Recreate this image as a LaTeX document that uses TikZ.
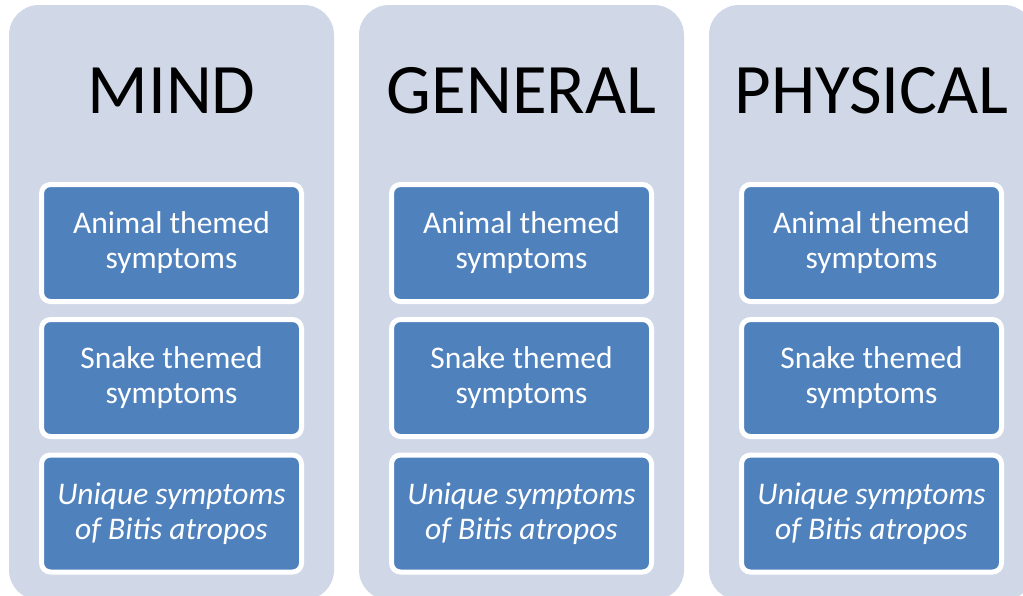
\documentclass[tikz,border=0pt]{standalone}
\usepackage{fontspec}
\setmainfont{Carlito}
\definecolor{colbg}{HTML}{D0D8E8}
\definecolor{boxblue}{HTML}{4F81BD}
\begin{document}
\begin{tikzpicture}[x=1pt,y=-1pt,
  column/.style={fill=colbg, rounded corners=30pt},
  itembox/.style={draw=white, line width=5pt, fill=boxblue, rounded corners=9pt,
    minimum width=260pt, minimum height=117pt, inner sep=0pt,
    text=white, align=center, font=\fontsize{31.5}{35}\selectfont},
  title/.style={anchor=base, text=black, inner sep=0pt, font=\fontsize{71}{84}\selectfont}]
\useasboundingbox (0,0) rectangle (1023,595);
\begin{scope}
\clip (0,0) rectangle (1023,595);
\foreach \i in {0,1,2}{
  \pgfmathsetmacro{\cx}{171.5+350*\i}
  \fill[column] (\cx-162.5,5) rectangle (\cx+162.5,600);
}
\end{scope}
\node[title] (t1) at (171.5,113) {MIND};
\node[title] (t2) at (521.5,113) {GENERAL};
\node[title] (t3) at (871.5,113) {PHYSICAL};
\node[itembox] (a1) at (171.5,243) {Animal themed\\symptoms};
\node[itembox] (b1) at (171.5,378) {Snake themed\\symptoms};
\node[itembox] (c1) at (171.5,513.5) {\itshape Unique symptoms\\\itshape of Bitis atropos};
\node[itembox] (a2) at (521.5,243) {Animal themed\\symptoms};
\node[itembox] (b2) at (521.5,378) {Snake themed\\symptoms};
\node[itembox] (c2) at (521.5,513.5) {\itshape Unique symptoms\\\itshape of Bitis atropos};
\node[itembox] (a3) at (871.5,243) {Animal themed\\symptoms};
\node[itembox] (b3) at (871.5,378) {Snake themed\\symptoms};
\node[itembox] (c3) at (871.5,513.5) {\itshape Unique symptoms\\\itshape of Bitis atropos};
\end{tikzpicture}
\end{document}
